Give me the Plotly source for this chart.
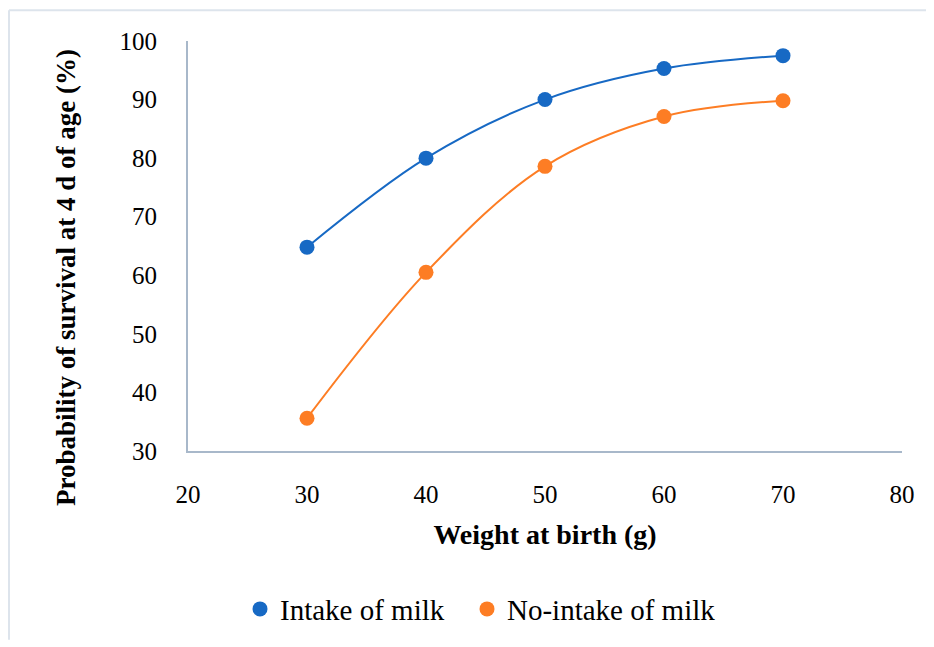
import plotly.graph_objects as go

weights = [30, 40, 50, 60, 70]
intake = [64.8, 80.0, 90.0, 95.3, 97.5]
no_intake = [35.6, 60.5, 78.6, 87.1, 89.8]
series_names = ["Intake of milk", "No-intake of milk"]
x_ticks = [20, 30, 40, 50, 60, 70, 80]
y_ticks = [30, 40, 50, 60, 70, 80, 90, 100]

BLUE = "#1769c4"
ORANGE = "#fd7d24"
FONT = "Liberation Serif"

fig = go.Figure()
for name, vals, col in [(series_names[0], intake, BLUE), (series_names[1], no_intake, ORANGE)]:
    fig.add_trace(go.Scatter(
        x=weights, y=vals, name=name, mode="lines+markers", showlegend=False,
        line=dict(color=col, width=2, shape="spline", smoothing=1),
        marker=dict(color=col, size=15),
    ))
for name, col, lg in [(series_names[0], BLUE, "legend"), (series_names[1], ORANGE, "legend2")]:
    fig.add_trace(go.Scatter(
        x=[None], y=[None], name=name, mode="markers", legend=lg,
        marker=dict(color=col, size=15),
    ))

# page offset (body margin) of 8px
OFF = 8
W, H = 934 - OFF, 647 - OFF
L, R, T, B = 188 - OFF, 934 - 902, 41 - OFF, 647 - 456
pw, ph = W - L - R, H - T - B

def px_x(p):
    return (p - OFF - L) / pw

def px_y(p):
    return (H - B - (p - OFF)) / ph

def legend_at(px):
    return dict(
        orientation="h", x=px_x(px), xanchor="left", y=px_y(616), yanchor="middle",
        font=dict(family=FONT, size=29, color="#000000"),
        itemwidth=30, bgcolor="rgba(0,0,0,0)",
    )

BORDER = "#dde4ec"
fig.update_layout(
    width=W, height=H,
    margin=dict(l=L, r=R, t=T, b=B, pad=0),
    paper_bgcolor="white", plot_bgcolor="white",
    font=dict(family=FONT, color="#000000", size=25),
    showlegend=True,
    legend=legend_at(240),
    legend2=legend_at(467),
    xaxis=dict(
        range=[20, 80], tickvals=x_ticks, showgrid=False, zeroline=False,
        showline=True, linecolor="#a8b8ca", linewidth=2,
        ticks="", ticklabelstandoff=20,
        tickfont=dict(family=FONT, size=25, color="#000000"),
        title=dict(text="<b>Weight at birth (g)</b>", standoff=17,
                   font=dict(family=FONT, size=28, color="#000000")),
    ),
    yaxis=dict(
        range=[30, 100], tickvals=y_ticks, showgrid=False, zeroline=False,
        showline=True, linecolor="#a8b8ca", linewidth=2,
        ticks="", ticklabelstandoff=24,
        tickfont=dict(family=FONT, size=25, color="#000000"),
    ),
    annotations=[dict(
        text="<b>Probability of survival at 4 d of age (%)</b>",
        xref="paper", yref="paper", x=px_x(66), y=px_y(281),
        xanchor="center", yanchor="middle", textangle=-90, showarrow=False,
        font=dict(family=FONT, size=27, color="#000000"),
    )],
    shapes=[
        dict(type="line", xref="paper", yref="paper",
             x0=px_x(9), x1=px_x(934), y0=px_y(10), y1=px_y(10),
             line=dict(color=BORDER, width=2), layer="below"),
        dict(type="line", xref="paper", yref="paper",
             x0=px_x(9), x1=px_x(9), y0=px_y(10), y1=px_y(647),
             line=dict(color=BORDER, width=2), layer="below"),
    ],
)

fig.write_html("out.html", config={"displayModeBar": False})
